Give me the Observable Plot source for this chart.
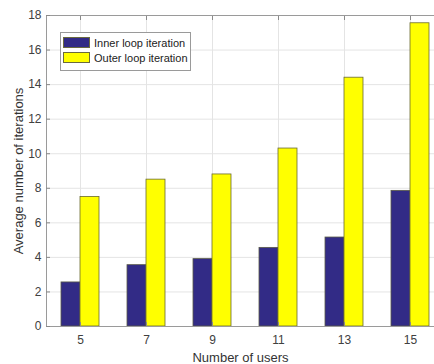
<!DOCTYPE html>
<html><head><meta charset="utf-8">
<script src="https://cdn.jsdelivr.net/npm/d3@7"></script>
<script src="https://cdn.jsdelivr.net/npm/@observablehq/plot@0.6"></script>
<style>
html,body{margin:0;padding:0;background:#fff;overflow:hidden;}
#wrap{position:relative;width:434px;height:364px;}
#legend{position:absolute;left:60px;top:32px;width:131px;height:39px;border:1px solid #9a9a9a;background:#fff;box-sizing:border-box;font:11px "Liberation Sans",Arial,sans-serif;color:#222;}
.item{position:absolute;left:2px;height:13px;display:flex;align-items:center;}
.sw{width:27px;height:11px;border:1px solid #6a6a40;box-sizing:border-box;margin-right:4px;}
</style>
</head><body>
<div id="wrap"></div>
<script>
const users = [5, 7, 9, 11, 13, 15];
const inner = [2.55, 3.55, 3.9, 4.55, 5.15, 7.85];
const outer = [7.5, 8.5, 8.8, 10.3, 14.4, 17.55];
const series = ["Inner loop iteration", "Outer loop iteration"];
const colors = ["#322b86", "#ffff00"];
const yTicks = [0, 2, 4, 6, 8, 10, 12, 14, 16, 18];
const xLabel = "Number of users";
const yLabel = "Average number of iterations";

const rows = users.flatMap((u, i) => [
  {users: u, series: series[0], value: inner[i]},
  {users: u, series: series[1], value: outer[i]}
]);

const grid = "#e4e4e4";
const chart = Plot.plot({
  width: 434, height: 364,
  marginLeft: 46, marginTop: 15, marginBottom: 38, marginRight: 0,
  style: {fontFamily: "'Liberation Sans', Arial, sans-serif", fontSize: "12px", color: "#404040", overflow: "hidden", background: "#fff"},
  x: {type: "band", domain: users, range: [46, 443], paddingInner: 0.426, paddingOuter: 0.213},
  y: {domain: [0, 18]},
  color: {domain: series, range: colors},
  marks: [
    Plot.gridY(yTicks, {stroke: grid, strokeOpacity: 1}),
    Plot.gridX(users, {stroke: grid, strokeOpacity: 1}),
    Plot.barY(rows, {filter: d => d.series === series[0], x: "users", y: "value", fill: "series", stroke: "#5a5a48", strokeWidth: 0.8, insetRight: 19}),
    Plot.barY(rows, {filter: d => d.series === series[1], x: "users", y: "value", fill: "series", stroke: "#6a6a30", strokeWidth: 0.8, insetLeft: 19}),
    Plot.frame({stroke: "#9a9a9a"}),
    Plot.axisY(yTicks, {anchor: "left", tickSize: -4, tickPadding: 9, stroke: "#8a8a8a", label: null}),
    Plot.axisX(users, {anchor: "bottom", tickSize: -4, tickPadding: 13, stroke: "#8a8a8a", label: null}),
    Plot.axisX(users, {anchor: "top", tickSize: -4, tickFormat: () => "", stroke: "#8a8a8a", label: null}),
    Plot.text([yLabel], {frameAnchor: "left", rotate: -90, dx: -28, fontSize: 13, fill: "#333", textAnchor: "middle", lineAnchor: "middle"}),
    Plot.text([xLabel], {frameAnchor: "bottom", dy: 31, fontSize: 13, fill: "#333", textAnchor: "middle", lineAnchor: "middle"})
  ]
});
const wrap = document.getElementById("wrap");
wrap.appendChild(chart);

const legend = document.createElement("div");
legend.id = "legend";
series.forEach((s, i) => {
  const it = document.createElement("div");
  it.className = "item";
  it.style.top = (3 + i * 15) + "px";
  const sw = document.createElement("div");
  sw.className = "sw";
  sw.style.background = colors[i];
  const t = document.createElement("span");
  t.textContent = s;
  it.appendChild(sw); it.appendChild(t);
  legend.appendChild(it);
});
wrap.appendChild(legend);
</script>
</body></html>
